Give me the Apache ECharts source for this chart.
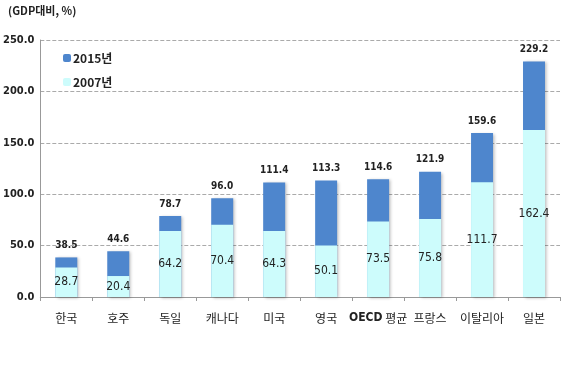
<!DOCTYPE html>
<html><head><meta charset="utf-8">
<script src="https://cdn.jsdelivr.net/npm/echarts@6/dist/echarts.min.js"></script>
<style>html,body{margin:0;padding:0;background:#fff}#c{width:567px;height:371px}</style>
</head><body><div id="c"></div>
<script>
const categories = ['한국','호주','독일','캐나다','미국','영국','OECD 평균','프랑스','이탈리아','일본'];
const v2015 = [38.5,44.6,78.7,96.0,111.4,113.3,114.6,121.9,159.6,229.2];
const v2007 = [28.7,20.4,64.2,70.4,64.3,50.1,73.5,75.8,111.7,162.4];
const yTicks = [0,50,100,150,200,250];
const F = "'DejaVu Sans Condensed','Liberation Sans Narrow','Noto Sans CJK KR',sans-serif";
const K = "'Noto Sans CJK KR',sans-serif";
const chart = echarts.init(document.getElementById('c'));
chart.setOption({
  animation:false,
  graphic:[{type:'text',left:8,top:5,style:{text:'(GDP대비, %)',font:"bold 11px 'Noto Sans CJK KR',sans-serif",fill:'#222'}}],
  legend:{orient:'vertical',left:58,top:47,itemWidth:8,itemHeight:8,itemGap:12,
    data:['2015년','2007년'],
    textStyle:{fontFamily:K,fontSize:12,fontWeight:'bold',color:'#222',padding:[0,0,0,-3]}},
  grid:{left:40,right:7,top:40,bottom:74},
  xAxis:{type:'category',data:categories,
    axisLine:{lineStyle:{color:'#999'}},
    axisTick:{show:true,length:4,lineStyle:{color:'#999'}},
    axisLabel:{interval:0,color:'#222',fontSize:12,margin:15,fontFamily:K,
      formatter:v=>v==='OECD 평균'?'{b|OECD} 평균':v,rich:{b:{fontWeight:'bold',fontSize:12,fontFamily:F,color:'#222'}}}},
  yAxis:{type:'value',min:0,max:250,interval:50,
    axisLine:{show:true,lineStyle:{color:'#999'}},
    axisTick:{show:false},
    splitLine:{lineStyle:{color:'#aaa',type:'dashed'}},
    axisLabel:{color:'#222',fontWeight:'bold',fontSize:11,fontFamily:F,margin:6,
      formatter:v=>yTicks.includes(v)?v.toFixed(1):''}},
  series:[
    {name:'2015년',type:'bar',data:v2015,barWidth:22,barGap:'-100%',
      itemStyle:{color:'#4e86cd',shadowColor:'rgba(0,0,0,0.25)',shadowBlur:3,shadowOffsetX:2,shadowOffsetY:1},
      label:{show:true,position:'top',distance:7,formatter:p=>p.value.toFixed(1),
        color:'#222',fontWeight:'bold',fontSize:10,fontFamily:F}},
    {name:'2007년',type:'bar',data:v2007,barWidth:22,
      itemStyle:{color:'#cdfcfc'},
      label:{show:true,position:'inside',formatter:p=>p.value.toFixed(1),
        color:'#222',fontSize:12,fontFamily:F}}
  ]
});
</script></body></html>
